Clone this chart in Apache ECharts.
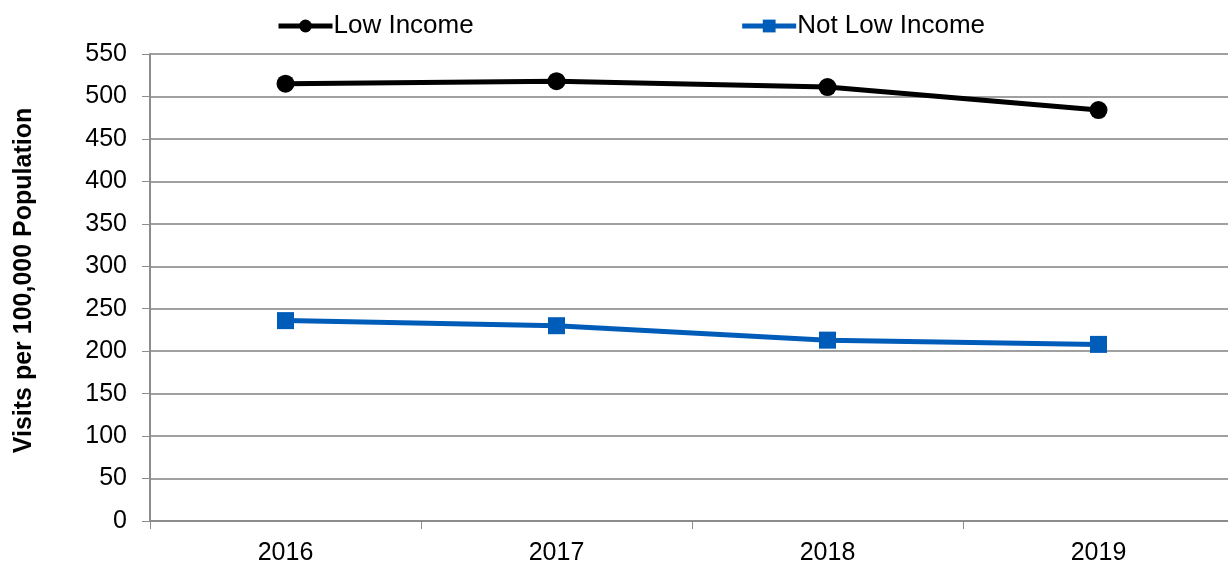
<!DOCTYPE html>
<html><head><meta charset="utf-8">
<script src="https://cdn.jsdelivr.net/npm/echarts@6/dist/echarts.min.js"></script>
<style>html,body{margin:0;padding:0;background:#fff}#c{width:1228px;height:564px}</style>
</head><body><div id="c"></div>
<script>
const categories = ['2016', '2017', '2018', '2019'];
const lowIncome = [515, 518, 511, 484];
const notLowIncome = [236, 230, 213, 208];
const yTicks = { min: 0, max: 550, interval: 50 };
const yTitle = 'Visits per 100,000 Population';

const chart = echarts.init(document.getElementById('c'), null, { renderer: 'canvas' });
const font = 'Liberation Sans, Arial, sans-serif';
chart.setOption({
  animation: false,
  backgroundColor: '#fff',
  legend: {
    top: 8, left: 271, itemGap: 266, itemWidth: 54, itemHeight: 16,
    textStyle: { fontFamily: font, fontSize: 26, color: '#000', padding: [0, 0, 0, -4] },
    lineStyle: { width: 5 },
    data: ['Low Income', 'Not Low Income']
  },
  grid: { left: 150, right: -6, top: 54, bottom: 43, containLabel: false, outerBoundsMode: 'none' },
  xAxis: {
    type: 'category', data: categories, boundaryGap: true,
    axisLine: { lineStyle: { color: '#8c8c8c', width: 2 } },
    axisTick: { show: true, length: 8, lineStyle: { color: '#8c8c8c', width: 1 } },
    axisLabel: { fontFamily: font, fontSize: 25, color: '#000', margin: 20 }
  },
  yAxis: {
    type: 'value', min: yTicks.min, max: yTicks.max, interval: yTicks.interval,
    name: yTitle, nameLocation: 'middle', nameGap: 113, nameRotate: 90, nameMoveOverlap: false,
    nameTextStyle: { fontFamily: font, fontSize: 25, fontWeight: 'bold', color: '#000', padding: [0, 0, 0, 14] },
    axisLine: { show: true, lineStyle: { color: '#8c8c8c', width: 2 } },
    axisTick: { show: true, length: 8, lineStyle: { color: '#8c8c8c' } },
    axisLabel: { fontFamily: font, fontSize: 25, color: '#000', margin: 23 },
    splitLine: { lineStyle: { color: '#a0a0a0', width: 2 } }
  },
  series: [
    {
      name: 'Low Income', type: 'line', data: lowIncome,
      symbol: 'circle', symbolSize: 18,
      lineStyle: { color: '#000', width: 5 },
      itemStyle: { color: '#000' }
    },
    {
      name: 'Not Low Income', type: 'line', data: notLowIncome,
      symbol: 'rect', symbolSize: 17,
      lineStyle: { color: '#005cb9', width: 5 },
      itemStyle: { color: '#005cb9' }
    }
  ]
});
</script></body></html>
